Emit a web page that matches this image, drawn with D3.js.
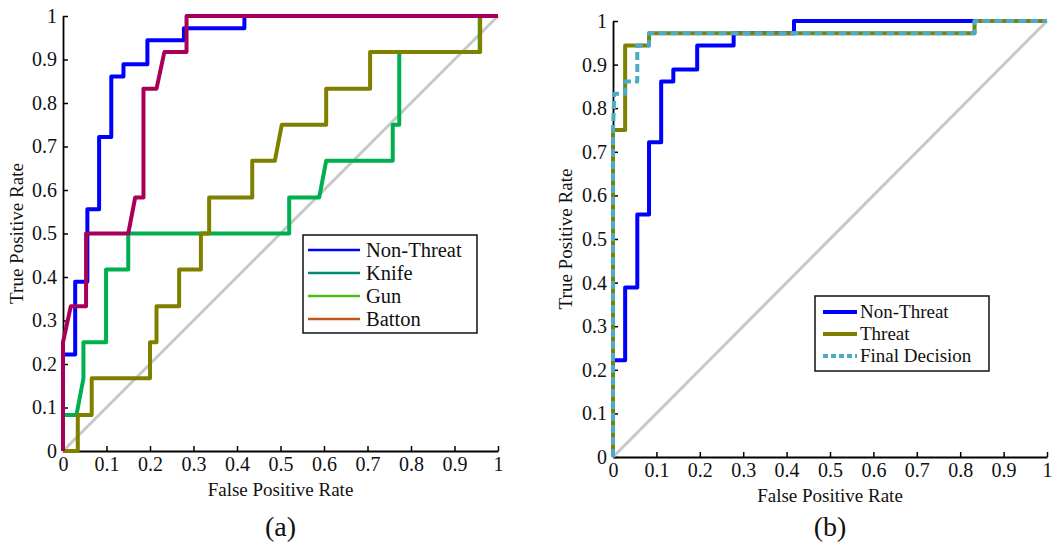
<!DOCTYPE html>
<html>
<head>
<meta charset="utf-8">
<script src="https://cdn.jsdelivr.net/npm/d3@7"></script>
<style>
  body { margin: 0; background: #fff; }
  svg text { font-family: "Liberation Serif", "Times New Roman", Times, serif; }
</style>
</head>
<body>
<svg width="1053" height="549"></svg>
<script>
// tick values shared by both axes of both panels
var ticks = [0, 0.1, 0.2, 0.3, 0.4, 0.5, 0.6, 0.7, 0.8, 0.9, 1];

// ROC points (false positive rate / true positive rate)
var nonThreatFpr = [0, 0, 0.028, 0.028, 0.056, 0.056, 0.083, 0.083, 0.111, 0.111, 0.139, 0.139, 0.194, 0.194, 0.278, 0.278, 0.417, 0.417, 1];
var nonThreatTpr = [0, 0.222, 0.222, 0.389, 0.389, 0.556, 0.556, 0.722, 0.722, 0.861, 0.861, 0.889, 0.889, 0.944, 0.944, 0.972, 0.972, 1, 1];

var knifeFpr = [0, 0, 0.031, 0.047, 0.047, 0.099, 0.099, 0.15, 0.15, 0.52, 0.52, 0.589, 0.605, 0.758, 0.758, 0.773, 0.773, 0.958, 0.958, 1];
var knifeTpr = [0, 0.083, 0.083, 0.167, 0.25, 0.25, 0.417, 0.417, 0.5, 0.5, 0.583, 0.583, 0.667, 0.667, 0.75, 0.75, 0.917, 0.917, 1, 1];

var gunFpr = [0, 0.034, 0.034, 0.066, 0.066, 0.2, 0.2, 0.215, 0.215, 0.267, 0.267, 0.317, 0.317, 0.336, 0.336, 0.435, 0.435, 0.487, 0.503, 0.605, 0.605, 0.706, 0.706, 0.959, 0.959, 1];
var gunTpr = [0, 0, 0.083, 0.083, 0.167, 0.167, 0.25, 0.25, 0.333, 0.333, 0.417, 0.417, 0.5, 0.5, 0.583, 0.583, 0.667, 0.667, 0.75, 0.75, 0.833, 0.833, 0.917, 0.917, 1, 1];

var battonFpr = [0, 0, 0.018, 0.053, 0.053, 0.15, 0.166, 0.185, 0.185, 0.215, 0.233, 0.284, 0.284, 1];
var battonTpr = [0, 0.25, 0.333, 0.333, 0.5, 0.5, 0.583, 0.583, 0.833, 0.833, 0.917, 0.917, 1, 1];

var threatFpr = [0, 0, 0.028, 0.028, 0.083, 0.083, 0.833, 0.833, 1];
var threatTpr = [0, 0.75, 0.75, 0.944, 0.944, 0.972, 0.972, 1, 1];

var finalFpr = [0, 0, 0.003, 0.028, 0.028, 0.056, 0.056, 0.083, 0.083, 0.833, 0.833, 1];
var finalTpr = [0, 0.75, 0.833, 0.833, 0.861, 0.861, 0.944, 0.944, 0.972, 0.972, 1, 1];

var chanceLine = [0, 1];

var legendA = ["Non-Threat", "Knife", "Gun", "Batton"];
var legendB = ["Non-Threat", "Threat", "Final Decision"];

var serif = "'Liberation Serif', 'Times New Roman', Times, serif";

function pts(xs, ys) {
  return xs.map(function(v, i) { return { fpr: v, tpr: ys[i] }; });
}

var svg = d3.select("svg").attr("font-family", serif);

function drawPanel(p) {
  var x = d3.scaleLinear().domain([0, 1]).range([p.x0, p.x1]);
  var y = d3.scaleLinear().domain([0, 1]).range([p.y0, p.y1]);
  var line = d3.line()
    .x(function(d) { return x(d.fpr); })
    .y(function(d) { return y(d.tpr); });

  var g = svg.append("g").attr("font-family", serif);

  // axes (left and bottom only, ticks pointing in)
  var fmt = function(d) { return String(d); };
  var ax = g.append("g")
    .attr("transform", "translate(0," + p.y0 + ")")
    .call(d3.axisBottom(x).tickValues(ticks).tickFormat(fmt).tickSizeInner(-5).tickSizeOuter(0).tickPadding(3));
  var ay = g.append("g")
    .attr("transform", "translate(" + p.x0 + ",0)")
    .call(d3.axisLeft(y).tickValues(ticks).tickFormat(fmt).tickSizeInner(-5).tickSizeOuter(0).tickPadding(6));
  [ax, ay].forEach(function(a) {
    a.attr("font-family", serif).attr("font-size", 20);
    a.select(".domain").attr("stroke-width", 1.8);
    a.selectAll(".tick line").attr("stroke-width", 1.5);
    a.selectAll("text").attr("fill", "#111");
  });
  ax.selectAll("text").attr("dy", "0.85em");

  // chance diagonal
  g.append("path")
    .datum(pts(chanceLine, chanceLine))
    .attr("fill", "none")
    .attr("stroke", "#c8c8c8")
    .attr("stroke-width", 3)
    .attr("d", line);

  p.series.forEach(function(s) {
    g.append("path")
      .datum(pts(s.fpr, s.tpr))
      .attr("fill", "none")
      .attr("stroke", s.color)
      .attr("stroke-width", 4)
      .attr("stroke-dasharray", s.dash || null)
      .attr("stroke-linejoin", "round")
      .attr("d", line);
  });

  // axis titles
  g.append("text")
    .attr("x", (p.x0 + p.x1) / 2)
    .attr("y", p.y0 + 45)
    .attr("text-anchor", "middle")
    .attr("font-size", 19)
    .attr("fill", "#111")
    .text("False Positive Rate");
  g.append("text")
    .attr("transform", "translate(" + p.ytx + "," + (p.y0 + p.y1) / 2 + ") rotate(-90)")
    .attr("text-anchor", "middle")
    .attr("font-size", 19)
    .attr("fill", "#111")
    .text("True Positive Rate");
  g.append("text")
    .attr("x", (p.x0 + p.x1) / 2)
    .attr("y", 536)
    .attr("text-anchor", "middle")
    .attr("font-size", 28)
    .attr("fill", "#111")
    .text(p.label);

  // legend
  var L = p.legend;
  var lg = g.append("g");
  lg.append("rect")
    .attr("x", L.x).attr("y", L.y).attr("width", L.w).attr("height", L.h)
    .attr("fill", "#fff").attr("stroke", "#111").attr("stroke-width", 1.5);
  L.names.forEach(function(n, i) {
    var cy = L.y + L.first + i * L.step;
    lg.append("line")
      .attr("x1", L.lx0).attr("x2", L.lx1).attr("y1", cy).attr("y2", cy)
      .attr("stroke", L.colors[i])
      .attr("stroke-width", L.lw)
      .attr("stroke-dasharray", L.dash[i] || null);
    lg.append("text")
      .attr("x", L.tx).attr("y", cy).attr("dy", "0.33em")
      .attr("font-size", L.fs)
      .attr("fill", "#111")
      .text(n);
  });
}

drawPanel({
  x0: 63, x1: 498, y0: 451, y1: 16, ytx: 23, label: "(a)",
  series: [
    { fpr: nonThreatFpr, tpr: nonThreatTpr, color: "#0000ff" },
    { fpr: knifeFpr, tpr: knifeTpr, color: "#00b050" },
    { fpr: gunFpr, tpr: gunTpr, color: "#808000" },
    { fpr: battonFpr, tpr: battonTpr, color: "#a8005a" }
  ],
  legend: {
    x: 303, y: 235, w: 174, h: 98, first: 15, step: 23, fs: 20.5,
    lx0: 308, lx1: 360, tx: 366, lw: 2.5,
    names: legendA,
    colors: ["#0000ff", "#008a72", "#4cbb17", "#c0561a"],
    dash: []
  }
});

drawPanel({
  x0: 613, x1: 1047, y0: 457, y1: 21, ytx: 572, label: "(b)",
  series: [
    { fpr: nonThreatFpr, tpr: nonThreatTpr, color: "#0000ff" },
    { fpr: threatFpr, tpr: threatTpr, color: "#808000" },
    { fpr: finalFpr, tpr: finalTpr, color: "#4bacc6", dash: "8,4" }
  ],
  legend: {
    x: 815, y: 296, w: 174, h: 75, first: 16, step: 22, fs: 19,
    lx0: 823, lx1: 857, tx: 860, lw: 4,
    names: legendB,
    colors: ["#0000ff", "#808000", "#4bacc6"],
    dash: [null, null, "5,3"]
  }
});
</script>
</body>
</html>
